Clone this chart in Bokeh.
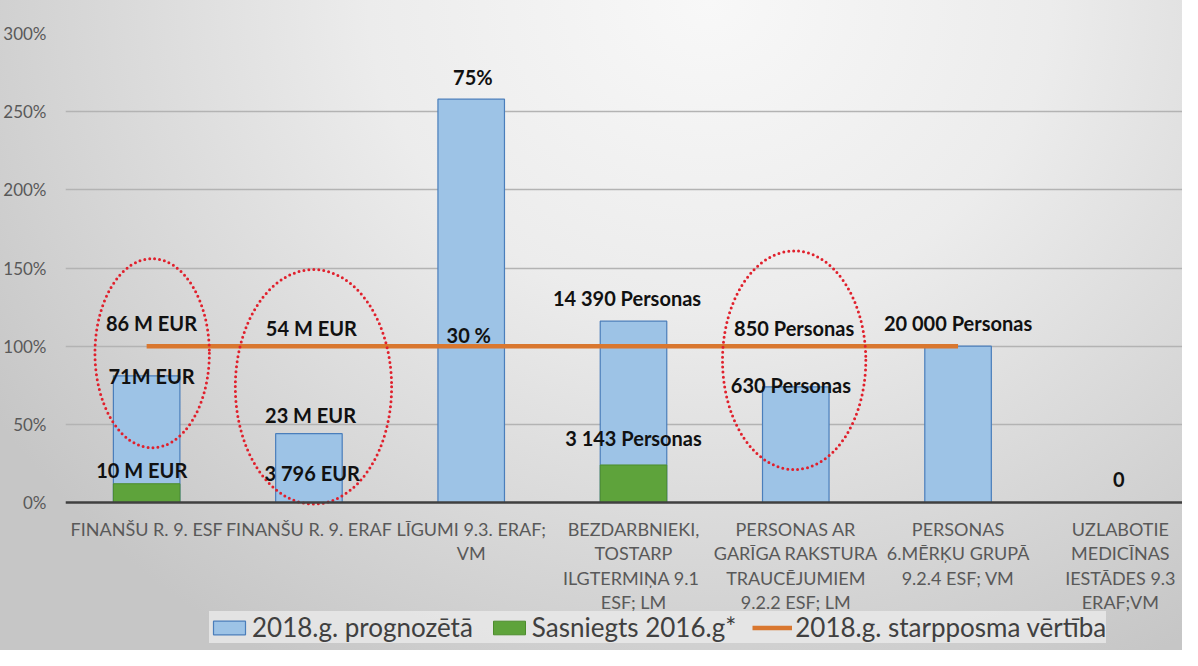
import numpy as np
from bokeh.plotting import figure
from bokeh.models import Range1d, FixedTicker, PrintfTickFormatter, Legend, LegendItem, Span
from bokeh.core.properties import value
from bokeh.embed import file_html
from bokeh.resources import INLINE

# ---------------- data ----------------
categories = [
    "FINANŠU R. 9. ESF",
    "FINANŠU R. 9. ERAF",
    "LĪGUMI 9.3. ERAF;\nVM",
    "BEZDARBNIEKI,\nTOSTARP\nILGTERMIŅA  9.1\nESF; LM",
    "PERSONAS AR\nGARĪGA RAKSTURA\nTRAUCĒJUMIEM\n9.2.2 ESF; LM",
    "PERSONAS\n6.MĒRĶU GRUPĀ\n9.2.4 ESF; VM",
    "UZLABOTIE\nMEDICĪNAS\nIESTĀDES 9.3\nERAF;VM",
]
forecast_2018 = [81, 44, 258, 116, 74, 100, 0]       # % (blue bars)
achieved_2016 = [12, 0, 0, 24, 0, 0, 0]              # % (green bars)
milestone_2018 = [100, 100, 100, 100, 100, 100, np.nan]  # % (orange line)
y_ticks = [0, 50, 100, 150, 200, 250, 300]

series_names = ["2018.g. prognozētā", "Sasniegts 2016.g*", "2018.g. starpposma vērtība"]

# value annotations (text, category position, height in %)
label_texts = ["86 M EUR", "71M EUR", "10 M EUR", "54 M EUR", "23 M EUR", "3 796 EUR",
               "75%", "30 %", "14 390 Personas", "3 143 Personas", "850 Personas",
               "630 Personas", "20 000 Personas", "0"]
label_cat = [0.03, 0.03, -0.03, 1.015, 1.01, 1.02, 2.01, 1.985, 2.96, 3.0, 3.99, 3.97, 5.0, 5.99]
label_pct = [115, 81, 21, 111.5, 56, 19, 272, 107, 131, 41, 111.5, 75, 115, 15]

# red dotted highlight ellipses (category position, % centre, width in categories, height in %)
ell_cat = [0.034, 1.028, 3.99]
ell_pct = [95.5, 74, 91]
ell_w = [0.705, 0.963, 0.883]
ell_h = [121, 150, 140]

# ---------------- figure ----------------
x = list(range(len(categories)))

W, H = 1182, 650
TOP, LEFT = 33, 60
PX_PER_PCT = 469 / 300.0              # plot scale: 300 % spans 469 px
frame_h = H - TOP
y_min = -(frame_h - 469) / PX_PER_PCT  # room below 0 % for category texts and legend

p = figure(width=W, height=H,
           x_range=Range1d(-0.5, 6.383), y_range=Range1d(y_min, 300),
           output_backend="svg", toolbar_location=None,
           min_border_left=LEFT, min_border_right=0,
           min_border_top=TOP, min_border_bottom=0)

p.background_fill_color = None
p.border_fill_color = None
p.outline_line_color = None
p.styles = {"background": "radial-gradient(ellipse 72% 118% at 60% 0%, #F8F8F8 0%, #ECECEC 40%, #D6D6D6 75%, #C6C6C6 100%)"}

r_blue = p.vbar(x=x, top=forecast_2018, bottom=0, width=0.41,
                fill_color="#9DC3E6", line_color="#4A7EBB", line_width=1.2)
r_green = p.vbar(x=x, top=achieved_2016, bottom=0, width=0.41,
                 fill_color="#5EA33B", line_color="#4C8C2C", line_width=1)
r_line = p.line(x=x, y=milestone_2018, line_color="#D9772F", line_width=4.5)

# zero baseline (category axis line)
p.add_layout(Span(location=0, dimension="width", line_color="#404040", line_width=2.5))

p.ellipse(x=ell_cat, y=ell_pct, width=ell_w, height=ell_h,
          fill_color=None, line_color="#E0202C", line_width=3,
          line_dash="0 5", line_cap="round")

p.text(x=label_cat, y=label_pct, text=label_texts,
       text_font=value("Lato"), text_font_style="bold", text_font_size="20px",
       text_align="center", text_baseline="middle", text_color="#111111")

# category labels under the baseline
p.text(x=x, y=[0] * len(x), text=categories, y_offset=15,
       text_font=value("Lato"), text_font_size="18px", text_color="#595959",
       text_align="center", text_baseline="top", text_line_height=1.12)

# grid
p.xgrid.grid_line_color = None
p.ygrid.ticker = FixedTicker(ticks=y_ticks)
p.ygrid.grid_line_color = "#B3B3B3"
p.ygrid.grid_line_width = 1.5

# y axis
p.yaxis.ticker = FixedTicker(ticks=y_ticks)
p.yaxis.formatter = PrintfTickFormatter(format="%d%%")
p.yaxis.axis_line_color = None
p.yaxis.major_tick_line_color = None
p.yaxis.minor_tick_line_color = None
p.yaxis.major_label_text_font = "Lato"
p.yaxis.major_label_text_font_size = "17px"
p.yaxis.major_label_text_color = "#595959"
p.yaxis.major_label_standoff = 13

# x axis hidden (labels drawn above as text)
p.xaxis.visible = False

legend = Legend(items=[LegendItem(label=series_names[0], renderers=[r_blue]),
                       LegendItem(label=series_names[1], renderers=[r_green]),
                       LegendItem(label=series_names[2], renderers=[r_line])],
                location=(144, 7), orientation="horizontal",
                background_fill_color="#EAEAEA", background_fill_alpha=0.8,
                border_line_color=None,
                label_text_font="Lato", label_text_font_size="26px",
                label_text_color="#404040",
                glyph_width=40, glyph_height=17, label_standoff=3,
                spacing=16, padding=11, margin=0)
p.add_layout(legend)

open("out.html", "w").write(file_html(p, INLINE))
